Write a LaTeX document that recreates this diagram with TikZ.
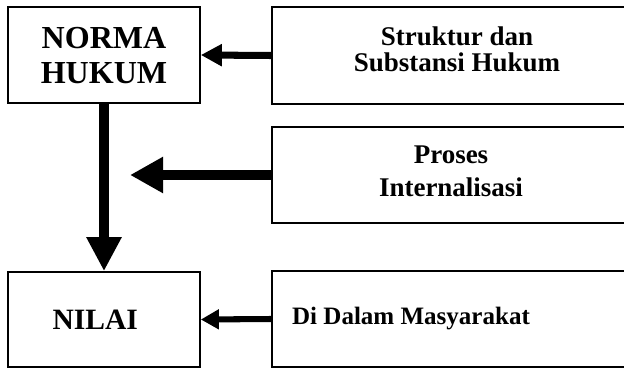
\documentclass[tikz,border=0pt]{standalone}
\usepackage{fontspec}
\setmainfont{Liberation Serif}
\usetikzlibrary{arrows.meta,positioning}
\tikzset{
	kotak/.style={draw=black, line width=1.2pt, rectangle, inner sep=0pt},
	teksbesar/.style={font=\fontsize{22.8}{25}\selectfont\bfseries, align=center},
	tekskecil/.style={font=\fontsize{19.2}{18.7}\selectfont\bfseries, align=center},
}
\begin{document}
\begin{tikzpicture}
	\useasboundingbox (0,0) rectangle (15.6,9.2);
	% kotak kiri
	\node[kotak, minimum width=4.8cm, minimum height=2.4cm] (norma) at (2.6,7.825) {};
	\node[kotak, minimum width=4.8cm, minimum height=2.375cm] (nilai) at (2.6,1.2125) {};
	% kotak kanan
	\node[kotak, minimum width=8.95cm, minimum height=2.425cm] (struktur) at (11.275,7.8125) {};
	\node[kotak, minimum width=8.95cm, minimum height=2.4cm] (proses) at (11.275,4.825) {};
	\node[kotak, minimum width=8.95cm, minimum height=2.4cm] (masyarakat) at (11.275,1.225) {};
	% teks
	\node[teksbesar] (normateks) at ([yshift=-0.02cm]norma.center) {NORMA\\HUKUM};
	\node[teksbesar, font=\fontsize{21}{25}\selectfont\bfseries] (nilaiteks) at ([xshift=-0.22cm]nilai.center) {NILAI};
	\node[tekskecil] (strukturteks) at ([xshift=0.15cm,yshift=0.15cm]struktur.center) {Struktur dan\\Substansi Hukum};
	\node[tekskecil, font=\fontsize{19.2}{23.5}\selectfont\bfseries] (prosesteks) at ([yshift=0.1cm]proses.center) {Proses\\Internalisasi};
	\node[tekskecil, font=\fontsize{17.8}{18.5}\selectfont\bfseries] (masyarakatteks) at ([xshift=-1cm]masyarakat.center) {Di Dalam Masyarakat};
	% panah
	\coordinate (ujung) at (3.25,4.825);
	\draw[line width=5pt, -{Triangle[length=0.525cm, width=0.525cm]}] (struktur.west) -- (norma.east);
	\draw[line width=7.5pt, -{Triangle[length=0.825cm, width=0.85cm]}] (proses.west) -- (ujung);
	\draw[line width=7pt, -{Triangle[length=0.85cm, width=0.825cm]}] (norma.south) -- (nilai.north);
	\draw[line width=4.3pt, -{Triangle[length=0.45cm, width=0.475cm]}] (masyarakat.west) -- (nilai.east);
\end{tikzpicture}
\end{document}
